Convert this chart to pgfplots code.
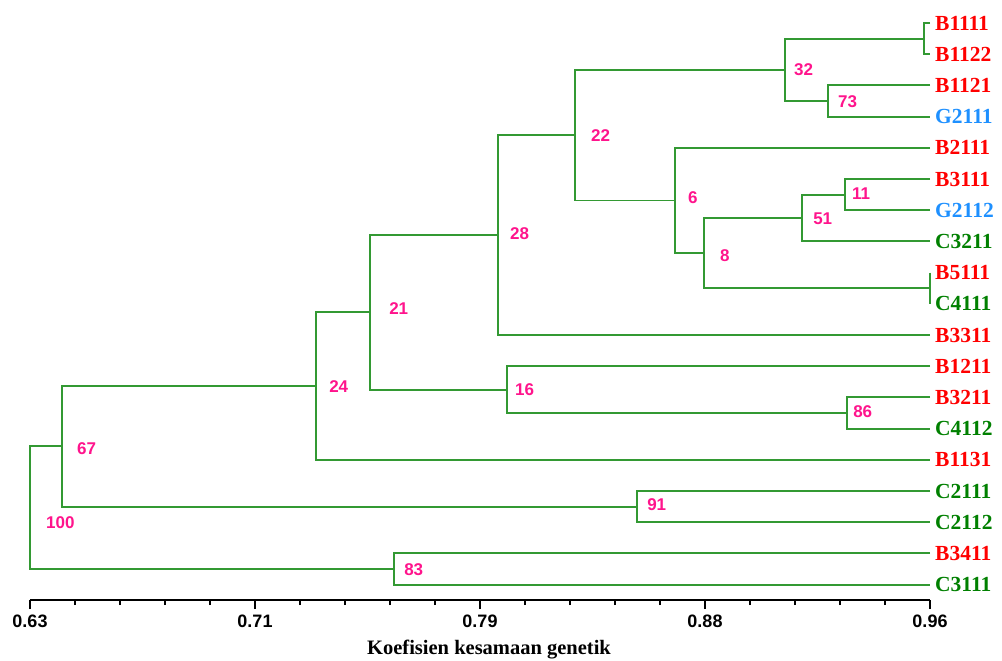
\documentclass[border=0pt]{standalone}
\usepackage{fontspec}
\setmainfont{Liberation Serif}
\setsansfont{Liberation Sans}
\usepackage{pgfplots}
\pgfplotsset{compat=1.18}
\definecolor{treegreen}{RGB}{51,153,51}
\definecolor{nodepink}{RGB}{255,20,140}
\definecolor{leafred}{RGB}{255,0,0}
\definecolor{leafblue}{RGB}{30,144,255}
\definecolor{leafgreen}{RGB}{0,128,0}
\tikzset{
  nl/.style={anchor=west, inner sep=0pt, text=nodepink, font=\fontsize{17}{17}\selectfont\sffamily\bfseries},
  lf/.style={anchor=west, inner sep=0pt, xshift=5pt, font=\fontsize{21.5}{21.5}\selectfont\rmfamily\bfseries},
}
\pgfplotsset{tree/.style={color=treegreen, line width=1.9pt, no marks, line join=miter}}
\begin{document}
\begin{tikzpicture}[x=1pt,y=1pt]
\path[use as bounding box] (0,0) rectangle (1002,661);
\begin{axis}[
  at={(30pt,61pt)}, anchor=south west,
  scale only axis, width=900pt, height=600pt,
  xmin=0.63, xmax=0.96,
  ymin=-0.7372, ymax=18.4936, y dir=reverse,
  clip=false,
  axis x line=bottom, axis line style={-, line width=1.2pt, black},
  hide y axis,
  xtick={0.63,0.7125,0.795,0.8775,0.96},
  xticklabels={0.63,0.71,0.79,0.88,0.96},
  minor x tick num=4,
  tick align=outside,
  major tick length=9pt, minor tick length=5pt,
  every tick/.style={black, line width=1.2pt},
  /pgf/number format/assume math mode=true,
  xticklabel style={font=\fontsize{18}{18}\selectfont\sffamily\bfseries, inner sep=0pt, anchor=north, yshift=-6pt},
]
% internal nodes of the dendrogram
\addplot[tree] coordinates {(0.96,0) (0.9578,0) (0.9578,1) (0.96,1)};
\addplot[tree] coordinates {(0.96,2) (0.9226,2) (0.9226,3) (0.96,3)};
\addplot[tree] coordinates {(0.9578,0.5) (0.9068,0.5) (0.9068,2.5) (0.9226,2.5)};
\addplot[tree] coordinates {(0.96,5) (0.9288,5) (0.9288,6) (0.96,6)};
\addplot[tree] coordinates {(0.9288,5.5) (0.9131,5.5) (0.9131,7) (0.96,7)};
\addplot[tree] coordinates {(0.96,8) (0.96,9)};
\addplot[tree] coordinates {(0.9131,6.25) (0.8771,6.25) (0.8771,8.5) (0.96,8.5)};
\addplot[tree] coordinates {(0.96,4) (0.8665,4) (0.8665,7.375) (0.8771,7.375)};
\addplot[tree] coordinates {(0.9068,1.5) (0.8298,1.5) (0.8298,5.6875) (0.8665,5.6875)};
\addplot[tree] coordinates {(0.8298,3.5938) (0.8016,3.5938) (0.8016,10) (0.96,10)};
\addplot[tree] coordinates {(0.96,12) (0.9296,12) (0.9296,13) (0.96,13)};
\addplot[tree] coordinates {(0.96,11) (0.8049,11) (0.8049,12.5) (0.9296,12.5)};
\addplot[tree] coordinates {(0.8016,6.7969) (0.7547,6.7969) (0.7547,11.75) (0.8049,11.75)};
\addplot[tree] coordinates {(0.7547,9.2734) (0.7349,9.2734) (0.7349,14) (0.96,14)};
\addplot[tree] coordinates {(0.96,15) (0.8526,15) (0.8526,16) (0.96,16)};
\addplot[tree] coordinates {(0.7349,11.6367) (0.6417,11.6367) (0.6417,15.5) (0.8526,15.5)};
\addplot[tree] coordinates {(0.96,17) (0.7635,17) (0.7635,18) (0.96,18)};
\addplot[tree] coordinates {(0.6417,13.5684) (0.63,13.5684) (0.63,17.5) (0.7635,17.5)};
% bootstrap values
\node[nl, xshift=9pt] at (axis cs:0.9068,1.5) {32};
\node[nl, xshift=10pt, yshift=-1pt] at (axis cs:0.9226,2.5) {73};
\node[nl, xshift=16pt] at (axis cs:0.8298,3.5938) {22};
\node[nl, xshift=13pt, yshift=3pt] at (axis cs:0.8665,5.6875) {6};
\node[nl, xshift=7pt, yshift=1pt] at (axis cs:0.9288,5.5) {11};
\node[nl, xshift=11pt, yshift=-1pt] at (axis cs:0.9131,6.25) {51};
\node[nl, xshift=16pt, yshift=-3pt] at (axis cs:0.8771,7.375) {8};
\node[nl, xshift=12pt, yshift=1pt] at (axis cs:0.8016,6.7969) {28};
\node[nl, xshift=19pt, yshift=4pt] at (axis cs:0.7547,9.2734) {21};
\node[nl, xshift=13pt] at (axis cs:0.7349,11.6367) {24};
\node[nl, xshift=8pt] at (axis cs:0.8049,11.75) {16};
\node[nl, xshift=6pt, yshift=1pt] at (axis cs:0.9296,12.5) {86};
\node[nl, xshift=10pt, yshift=2pt] at (axis cs:0.8526,15.5) {91};
\node[nl, xshift=15pt, yshift=-2pt] at (axis cs:0.6417,13.5684) {67};
\node[nl, xshift=16pt, yshift=-15pt] at (axis cs:0.63,15.534) {100};
\node[nl, xshift=10pt, yshift=-1pt] at (axis cs:0.7635,17.5) {83};
% leaf labels
\node[lf, text=leafred]   at (axis cs:0.96,0)  {B1111};
\node[lf, text=leafred]   at (axis cs:0.96,1)  {B1122};
\node[lf, text=leafred]   at (axis cs:0.96,2)  {B1121};
\node[lf, text=leafblue]  at (axis cs:0.96,3)  {G2111};
\node[lf, text=leafred]   at (axis cs:0.96,4)  {B2111};
\node[lf, text=leafred]   at (axis cs:0.96,5)  {B3111};
\node[lf, text=leafblue]  at (axis cs:0.96,6)  {G2112};
\node[lf, text=leafgreen] at (axis cs:0.96,7)  {C3211};
\node[lf, text=leafred]   at (axis cs:0.96,8)  {B5111};
\node[lf, text=leafgreen] at (axis cs:0.96,9)  {C4111};
\node[lf, text=leafred]   at (axis cs:0.96,10) {B3311};
\node[lf, text=leafred]   at (axis cs:0.96,11) {B1211};
\node[lf, text=leafred]   at (axis cs:0.96,12) {B3211};
\node[lf, text=leafgreen] at (axis cs:0.96,13) {C4112};
\node[lf, text=leafred]   at (axis cs:0.96,14) {B1131};
\node[lf, text=leafgreen] at (axis cs:0.96,15) {C2111};
\node[lf, text=leafgreen] at (axis cs:0.96,16) {C2112};
\node[lf, text=leafred]   at (axis cs:0.96,17) {B3411};
\node[lf, text=leafgreen] at (axis cs:0.96,18) {C3111};
\end{axis}
\node[anchor=base, inner sep=0pt, font=\fontsize{20.5}{20.5}\selectfont\rmfamily\bfseries] at (489,6) {Koefisien kesamaan genetik};
\end{tikzpicture}
\end{document}
